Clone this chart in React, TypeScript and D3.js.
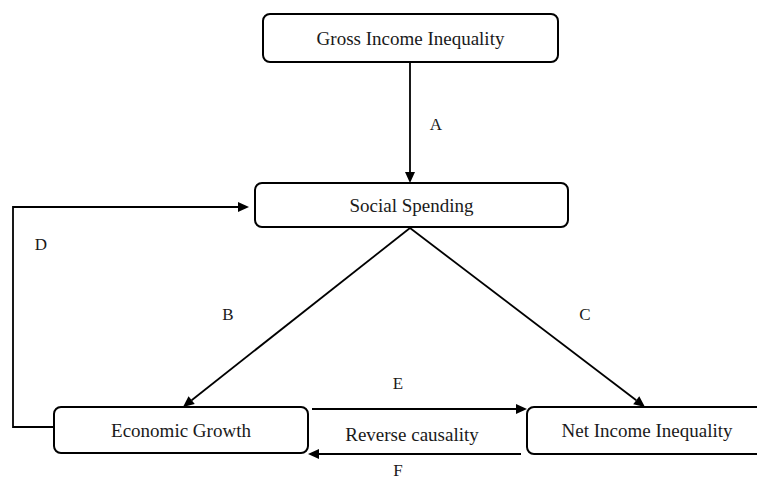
import React from 'react';
import * as d3 from 'd3';

// diagram content
const nodeNames = ['Gross Income Inequality', 'Social Spending', 'Economic Growth', 'Net Income Inequality'];
const edgeLabels = ['A', 'B', 'C', 'D', 'E', 'F'];
const middleNote = 'Reverse causality';

// layout (pixel boxes: x, y, w, h)
const boxes = [
  { x: 263, y: 14, w: 295, h: 48 },
  { x: 255, y: 183, w: 313, h: 44 },
  { x: 54, y: 407, w: 254, h: 46 },
  { x: 527, y: 407, w: 240, h: 47 },
];

// edges as point lists, last point is the arrow tip
const edgePaths: Array<{ pts: [number, number][] }> = [
  { pts: [[410, 62], [410, 183]] },
  { pts: [[410, 228], [183, 407]] },
  { pts: [[410, 228], [645, 407]] },
  { pts: [[54, 427], [13, 427], [13, 207], [249, 207]] },
  { pts: [[312, 409], [527, 409]] },
  { pts: [[521, 454], [308, 454]] },
];
const labelPos: [number, number][] = [[436, 124], [228, 314], [585, 314], [41, 244], [398, 383], [398, 470]];

const FONT = "'Liberation Serif', Tinos, 'Times New Roman', 'DejaVu Serif', serif";

const Arrow: React.FC<{ pts: [number, number][] }> = ({ pts }) => {
  const n = pts.length;
  const [x1, y1] = pts[n - 2];
  const [x2, y2] = pts[n - 1];
  const ang = Math.atan2(y2 - y1, x2 - x1);
  const len = 11;
  const half = 5;
  const bx = x2 - len * Math.cos(ang);
  const by = y2 - len * Math.sin(ang);
  const px = -Math.sin(ang) * half;
  const py = Math.cos(ang) * half;
  const line = d3.line();
  const shaft = pts.slice(0, n - 1).concat([[bx, by]]) as [number, number][];
  return (
    <g>
      <path d={line(shaft) || ''} fill="none" stroke="#000" strokeWidth={1.8} />
      <path d={`M${x2},${y2}L${bx + px},${by + py}L${bx - px},${by - py}Z`} fill="#000" />
    </g>
  );
};

export default function App() {
  const txt: React.CSSProperties = { fontFamily: FONT };
  return (
    <svg width={757} height={480} style={{ position: 'absolute', left: 0, top: 0, background: '#fff' }}>
      {edgePaths.map((e, i) => (
        <Arrow key={i} pts={e.pts} />
      ))}
      {boxes.map((b, i) => (
        <g key={i}>
          <rect x={b.x} y={b.y} width={b.w} height={b.h} rx={7} fill="#fff" stroke="#000" strokeWidth={2} />
          <text x={i === 3 ? 647 : b.x + b.w / 2} y={b.y + b.h / 2} dy="0.35em" textAnchor="middle"
            style={txt} fontSize={19} fill="#1a1a1a">{nodeNames[i]}</text>
        </g>
      ))}
      {edgeLabels.map((l, i) => (
        <text key={l} x={labelPos[i][0]} y={labelPos[i][1]} dy="0.35em" textAnchor="middle"
          style={txt} fontSize={17} fill="#1a1a1a">{l}</text>
      ))}
      <text x={412} y={434} dy="0.35em" textAnchor="middle" style={txt} fontSize={19} fill="#1a1a1a">{middleNote}</text>
    </svg>
  );
}
